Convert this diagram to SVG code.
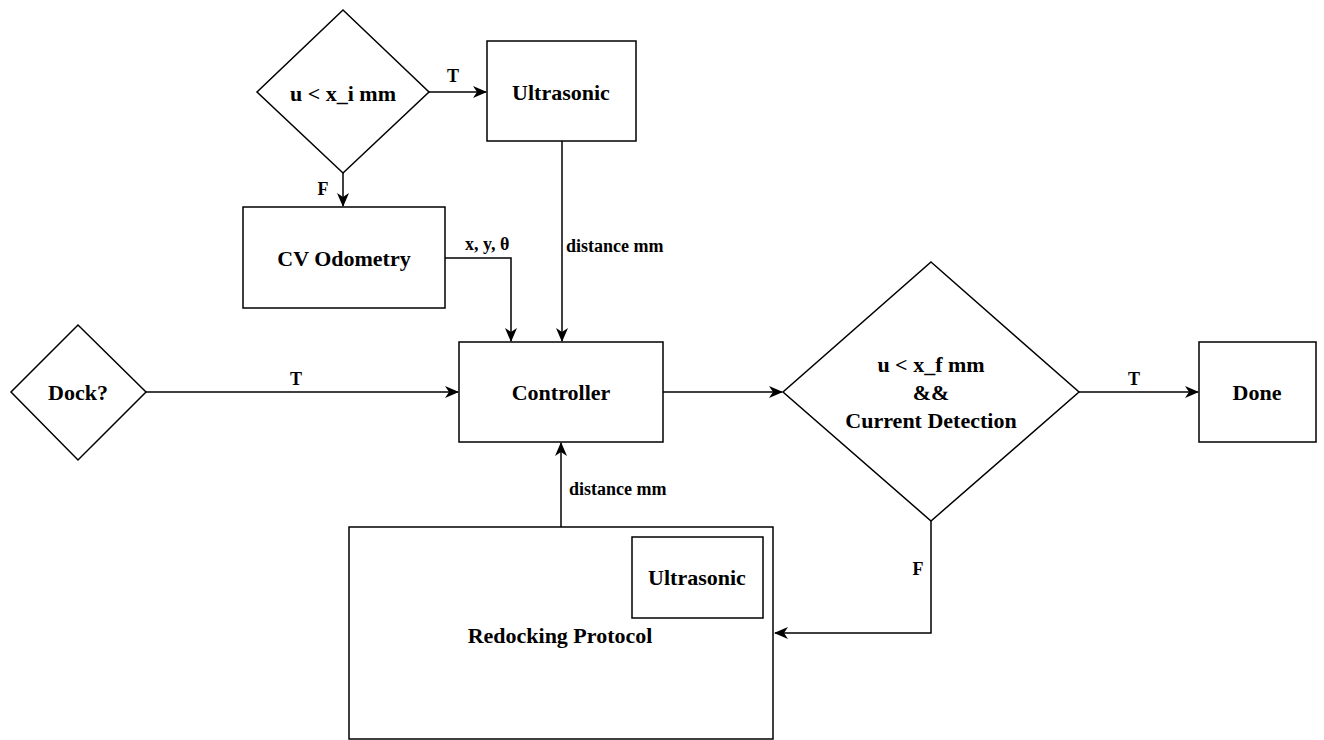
<svg xmlns="http://www.w3.org/2000/svg" width="1324" height="740" viewBox="0 0 1324 740">
<style>
.s{fill:#fff;stroke:#000;stroke-width:1.5}
.t{font-family:"Liberation Serif",serif;font-weight:bold;font-size:22px;text-anchor:middle;dominant-baseline:central;fill:#000}
.l{font-family:"Liberation Serif",serif;font-weight:bold;font-size:18px;fill:#000}
.c{fill:none;stroke:#000;stroke-width:1.5}
</style>
<defs>
<marker id="a" viewBox="0 0 14 12" refX="13" refY="6" markerWidth="14" markerHeight="12" markerUnits="userSpaceOnUse" orient="auto">
<path d="M0,0 L14,6 L0,12 L4,6 Z" fill="#000"/>
</marker>
</defs>
<g id="connectors">
<path class="c" d="M429,92 H486" marker-end="url(#a)"/>
<path class="c" d="M343,173 V206" marker-end="url(#a)"/>
<path class="c" d="M445,258 H511 V341" marker-end="url(#a)"/>
<path class="c" d="M562,141 V341" marker-end="url(#a)"/>
<path class="c" d="M146,392 H458" marker-end="url(#a)"/>
<path class="c" d="M663,392 H782" marker-end="url(#a)"/>
<path class="c" d="M1079,392 H1198" marker-end="url(#a)"/>
<path class="c" d="M561,527 V443" marker-end="url(#a)"/>
<path class="c" d="M931,521 V633 H775" marker-end="url(#a)"/>
<text class="l" x="453" y="82" text-anchor="middle">T</text>
<text class="l" x="323" y="195" text-anchor="middle">F</text>
<text class="l" x="465" y="250">x, y, θ</text>
<text class="l" x="566" y="252">distance mm</text>
<text class="l" x="296" y="385" text-anchor="middle">T</text>
<text class="l" x="1134" y="385" text-anchor="middle">T</text>
<text class="l" x="569" y="495">distance mm</text>
<text class="l" x="918" y="575" text-anchor="middle">F</text>
</g>
<g id="cond-xi">
<polygon class="s" points="343,10 429,92 343,173 257,92"/>
<text class="t" x="343" y="93">u &lt; x_i mm</text>
</g>
<g id="ultrasonic">
<rect class="s" x="487" y="41" width="149" height="100"/>
<text class="t" x="561" y="92">Ultrasonic</text>
</g>
<g id="cv-odometry">
<rect class="s" x="243" y="207" width="202" height="101"/>
<text class="t" x="344" y="258">CV Odometry</text>
</g>
<g id="dock">
<polygon class="s" points="78,325 146,392 78,460 11,392"/>
<text class="t" x="78" y="392">Dock?</text>
</g>
<g id="controller">
<rect class="s" x="459" y="342" width="204" height="100"/>
<text class="t" x="561" y="392">Controller</text>
</g>
<g id="cond-xf">
<polygon class="s" points="931,262 1079,392 931,521 783,392"/>
<text class="t" x="931" y="364">u &lt; x_f mm</text>
<text class="t" x="931" y="392">&amp;&amp;</text>
<text class="t" x="931" y="420">Current Detection</text>
</g>
<g id="done">
<rect class="s" x="1199" y="342" width="117" height="100"/>
<text class="t" x="1257" y="392">Done</text>
</g>
<g id="redocking">
<rect class="s" x="349" y="527" width="424" height="212"/>
<text class="t" x="560" y="635">Redocking Protocol</text>
<g id="redock-ultrasonic">
<rect class="s" x="632" y="537" width="131" height="81"/>
<text class="t" x="697" y="577">Ultrasonic</text>
</g>
</g>
</svg>
